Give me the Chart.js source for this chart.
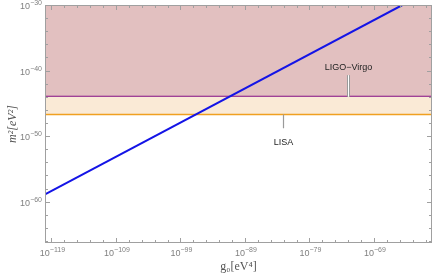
<!DOCTYPE html>
<html><head><meta charset="utf-8">
<script src="https://cdn.jsdelivr.net/npm/chart.js@4.4.1/dist/chart.umd.min.js"></script>
<style>html,body{margin:0;padding:0;background:#fff}#wrap{width:436px;height:278px}</style>
</head><body><div id="wrap"><canvas id="c" width="436" height="278"></canvas></div>
<script>
// ---- data (values as powers of ten) ----
const xRange = [1e-120, 1e-60];
const yRange = [Math.pow(10, -66.3), 1e-30];
const blueG0 = [1e-120, Math.pow(10, -64.6)];
const blueM2 = [Math.pow(10, -58.9), 1e-30];
const detectors = ['LIGO\u2212Virgo', 'LISA'];
const detectorM2 = [1e-44, Math.pow(10, -46.7)];
const xTickExps = [-119, -109, -99, -89, -79, -69];
const yTickExps = [-30, -40, -50, -60];
const labelPos = [ // [g0 exp, label m2 exp, callout end m2 exp]
  [-73.0, -39.6, -40.7],
  [-83.1, -50.9, -48.8]
];

const lineData = m => [{x: xRange[0], y: m}, {x: xRange[1], y: m}];

function drawPow(ctx, e, px, py, align) {
  const base = '10', ex = '\u2212' + String(-e);
  ctx.font = '9px "Liberation Sans", sans-serif';
  const wb = ctx.measureText(base).width;
  ctx.font = '7px "Liberation Sans", sans-serif';
  const we = ctx.measureText(ex).width;
  const w = wb + we;
  let x0 = align === 'center' ? px - w / 2 : px - w;
  ctx.textAlign = 'left';
  ctx.textBaseline = 'alphabetic';
  ctx.font = '9px "Liberation Sans", sans-serif';
  ctx.fillText(base, x0, py);
  ctx.font = '7px "Liberation Sans", sans-serif';
  ctx.fillText(ex, x0 + wb, py - 4);
}

const frameTicks = {
  id: 'frameTicks',
  afterDatasetsDraw(chart) {
    const {ctx, chartArea: a, scales: {x, y}} = chart;
    ctx.save();
    ctx.strokeStyle = '#a0a0a0';
    ctx.lineWidth = 1;
    for (let e = -119; e <= -61; e += 2) {
      const px = Math.round(x.getPixelForValue(Math.pow(10, e))) + 0.5;
      const len = ((e + 119) % 10 === 0) ? 5 : 3;
      ctx.beginPath();
      ctx.moveTo(px, a.bottom); ctx.lineTo(px, a.bottom - len);
      ctx.moveTo(px, a.top); ctx.lineTo(px, a.top + len);
      ctx.stroke();
    }
    for (let e = -30; e >= -66; e -= 2) {
      const py = Math.round(y.getPixelForValue(Math.pow(10, e))) + 0.5;
      const len = (e % 10 === 0) ? 5 : 3;
      ctx.beginPath();
      ctx.moveTo(a.left, py); ctx.lineTo(a.left + len, py);
      ctx.moveTo(a.right, py); ctx.lineTo(a.right - len, py);
      ctx.stroke();
    }
    ctx.strokeRect(Math.round(a.left) + 0.5, Math.round(a.top) + 0.5, Math.round(a.width) - 1, Math.round(a.height) - 1);
    // tick labels
    ctx.fillStyle = '#808080';
    xTickExps.forEach(e => drawPow(ctx, e, x.getPixelForValue(Math.pow(10, e)) + 1, a.bottom + 13, 'center'));
    yTickExps.forEach(e => drawPow(ctx, e, a.left - 3, y.getPixelForValue(Math.pow(10, e)) + 4, 'right'));
    // callouts
    ctx.font = '9px "Liberation Sans", sans-serif';
    ctx.textAlign = 'center';
    ctx.textBaseline = 'middle';
    labelPos.forEach((p, i) => {
      const px = Math.round(x.getPixelForValue(Math.pow(10, p[0]))) + 0.5;
      const y0 = y.getPixelForValue(detectorM2[i]);
      const y1 = y.getPixelForValue(Math.pow(10, p[2]));
      ctx.beginPath(); ctx.moveTo(px, y0); ctx.lineTo(px, y1);
      if (i === 0) {
        ctx.strokeStyle = '#9a9a9a'; ctx.lineWidth = 3; ctx.stroke();
        ctx.strokeStyle = '#ffffff'; ctx.lineWidth = 1; ctx.stroke();
      } else {
        ctx.strokeStyle = '#9a9a9a'; ctx.lineWidth = 1.2; ctx.stroke();
      }
      ctx.fillStyle = '#222';
      ctx.fillText(detectors[i], px, y.getPixelForValue(Math.pow(10, p[1])));
    });
    ctx.restore();
  }
};

new Chart(document.getElementById('c'), {
  type: 'scatter',
  data: {
    datasets: [
      {label: detectors[0], data: lineData(detectorM2[0]), showLine: true, borderColor: '#820a82', borderWidth: 2,
       pointRadius: 0, fill: 'end', backgroundColor: 'rgba(226,192,192,1)', order: 2},
      {label: detectors[1], data: lineData(detectorM2[1]), showLine: true, borderColor: '#f0a020', borderWidth: 1.5,
       pointRadius: 0, fill: '-1', backgroundColor: 'rgba(250,234,214,1)', order: 1},
      {label: 'm2', data: blueG0.map((g, i) => ({x: g, y: blueM2[i]})), showLine: true, borderColor: '#1414e6', borderWidth: 2,
       pointRadius: 0, fill: false, order: 0}
    ]
  },
  options: {
    responsive: false,
    animation: false,
    layout: {padding: {top: 5, right: 4, left: 0, bottom: 0}},
    plugins: {legend: {display: false}, tooltip: {enabled: false}},
    scales: {
      x: {
        type: 'logarithmic', min: xRange[0], max: xRange[1],
        grid: {display: false, drawTicks: false}, border: {display: false},
        afterBuildTicks: s => { s.ticks = xTickExps.map(e => ({value: Math.pow(10, e)})); },
        afterFit: s => { s.height = 35; },
        ticks: {display: false},
        title: {display: true, text: 'g\u2080[eV\u2074]', color: '#555', padding: {top: 0, bottom: 4},
                font: {family: '"Liberation Serif", serif', size: 12}}
      },
      y: {
        type: 'logarithmic', min: yRange[0], max: yRange[1],
        grid: {display: false, drawTicks: false}, border: {display: false},
        afterBuildTicks: s => { s.ticks = yTickExps.map(e => ({value: Math.pow(10, e)})); },
        afterFit: s => { s.width = 45; },
        ticks: {display: false},
        title: {display: true, text: 'm\u00b2[eV\u00b2]', color: '#555', padding: {top: 6, bottom: 0},
                font: {family: '"Liberation Serif", serif', size: 12, style: 'italic'}}
      }
    }
  },
  plugins: [frameTicks]
});
</script></body></html>
